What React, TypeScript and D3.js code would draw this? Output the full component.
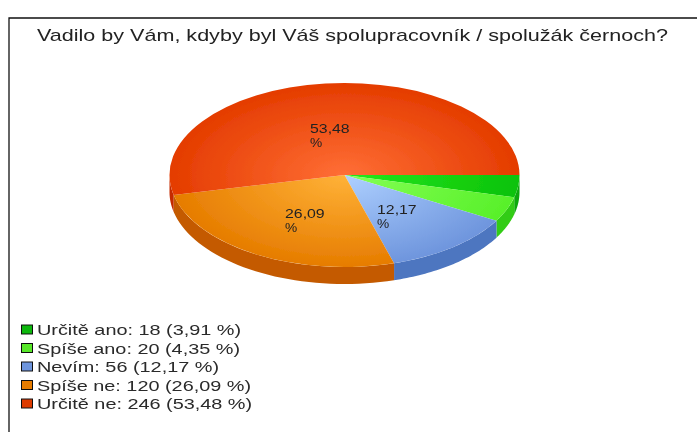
import React from "react";
import * as d3 from "d3";

const title = "Vadilo by Vám, kdyby byl Váš spolupracovník / spolužák černoch?";
const categories = ["Určitě ano", "Spíše ano", "Nevím", "Spíše ne", "Určitě ne"];
const counts = [18, 20, 56, 120, 246];
const percents = [3.91, 4.35, 12.17, 26.09, 53.48];
const percentLabels = ["3,91", "4,35", "12,17", "26,09", "53,48"];
const innerColors = ["#25e81c", "#85ff55", "#aed0ff", "#ffb238", "#ff6e36"];
const outerColors = ["#0cc20a", "#58f02a", "#6e95dd", "#e67c00", "#e43c00"];
const sideColors = ["#0aa80a", "#33cc14", "#4d76c0", "#c45a00", "#c42a00"];
const legendColors = ["#0cb80c", "#58e82a", "#6e95dd", "#e67c00", "#dd3a00"];
const labelled = [
  { index: 2, x: 377, y: 213.5 },
  { index: 3, x: 285, y: 217.5 },
  { index: 4, x: 310, y: 132.5 },
];

const cx = 344.5, cy = 175, rx = 175, ry = 92, depth = 17;

export default function App() {
  const pie = d3.pie<number>().sort(null).startAngle(Math.PI / 2).endAngle(Math.PI * 2.5);
  const slices = pie(percents);
  const arc = d3.arc<d3.PieArcDatum<number>>().innerRadius(0).outerRadius(1);
  const side = d3.area<number>()
    .x((a) => cx + rx * Math.sin(a))
    .y0((a) => cy - ry * Math.cos(a))
    .y1((a) => cy - ry * Math.cos(a) + depth);
  const frontEnd = Math.PI * 1.5;
  const legendScale = d3.scalePoint<string>().domain(categories).range([330, 404]);

  return (
    <svg width={697} height={432} style={{ position: "absolute", left: 0, top: 0, background: "#fff" }}
      fontFamily="'Liberation Sans', Arial, sans-serif">
      <defs>
        <filter id="soft" x="-5%" y="-5%" width="110%" height="110%">
          <feGaussianBlur stdDeviation="0.55" />
        </filter>
        {categories.map((c, i) => (
          <radialGradient key={c} id={`g${i}`} gradientUnits="userSpaceOnUse" cx={0} cy={0} r={1}>
            <stop offset="0" stopColor={innerColors[i]} />
            <stop offset="1" stopColor={outerColors[i]} />
          </radialGradient>
        ))}
      </defs>
      <g filter="url(#soft)">
        <path d="M697 18H9V432" fill="none" stroke="#111" strokeWidth={1.3} />
        <text x={37} y={41} fontSize={17} fill="#222" textLength={631} lengthAdjust="spacingAndGlyphs">{title}</text>

        {slices.map((s, i) => {
          const a0 = s.startAngle, a1 = Math.min(s.endAngle, frontEnd);
          if (a1 <= a0) return null;
          const n = 40;
          const angles = d3.range(n + 1).map((k) => a0 + ((a1 - a0) * k) / n);
          return <path key={i} d={side(angles) ?? ""} fill={sideColors[i]} />;
        })}
        <g transform={`translate(${cx},${cy}) scale(${rx},${ry})`}>
          {slices.map((s, i) => (
            <path key={i} d={arc(s) ?? ""} fill={`url(#g${i})`} />
          ))}
        </g>

        {labelled.map(({ index, x, y }) => (
          <g key={index} fontSize={12.5} fill="#222">
            <text transform={`translate(${x},${y}) scale(1.27,1)`}>{percentLabels[index]}</text>
            <text transform={`translate(${x},${y + 14.5}) scale(1.1,1)`}>%</text>
          </g>
        ))}

        {categories.map((c, i) => {
          const y = legendScale(c) ?? 0;
          return (
            <g key={c}>
              <rect x={21.5} y={y - 5} width={11} height={9} fill={legendColors[i]} stroke="#111" strokeWidth={1} />
              <text transform={`translate(37,${y + 5}) scale(1.37,1)`} fontSize={14.5} fill="#2a2a2a">
                {`${c}: ${counts[i]} (${percentLabels[i]} %)`}
              </text>
            </g>
          );
        })}
      </g>
    </svg>
  );
}
